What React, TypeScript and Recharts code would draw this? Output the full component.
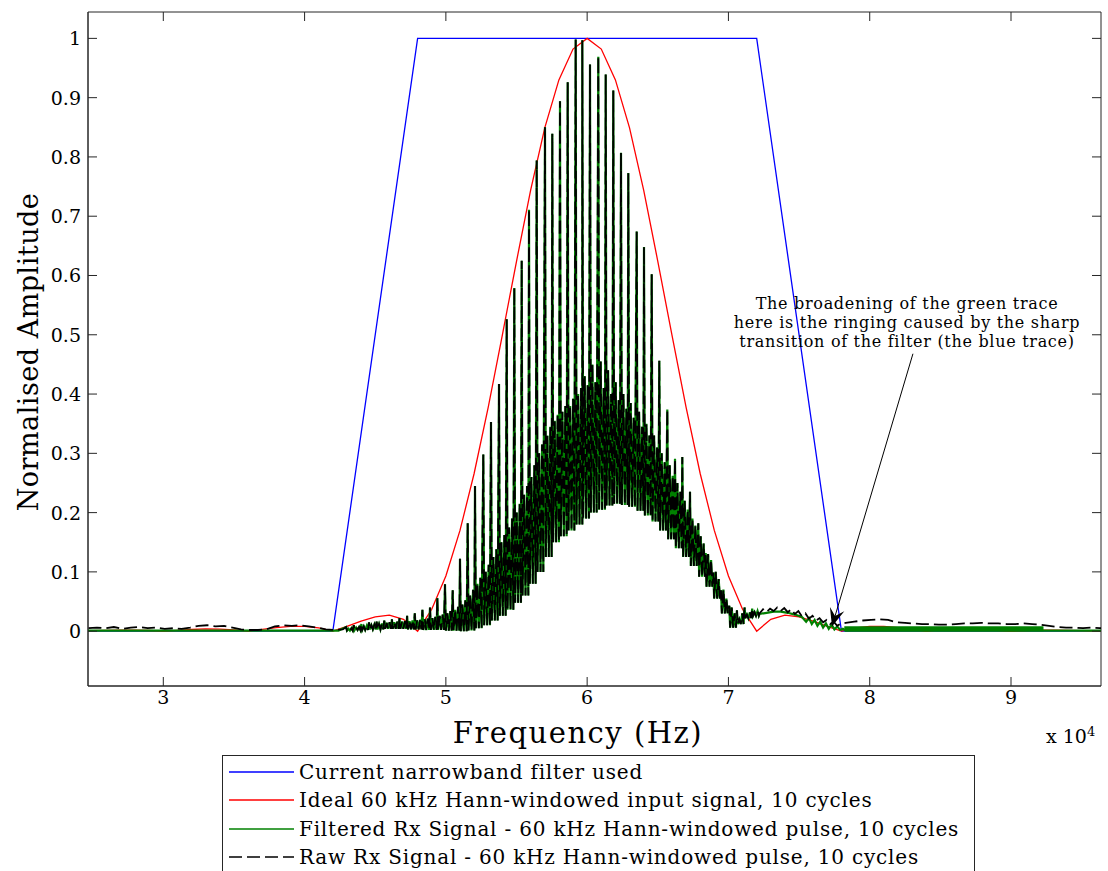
import React from 'react';
import {
  LineChart,
  Line,
  XAxis,
  YAxis,
  Legend,
  ReferenceArea,
  ReferenceLine,
} from 'recharts';

// plot box in page pixels (the axes draw their own inward ticks from these)
const PLOT = { left: 88, top: 12, right: 1101, bottom: 686 };
const CHART_W = 1108;
const CHART_H = 871;
const X_DOMAIN: [number, number] = [24670, 96370];
const Y_DOMAIN: [number, number] = [-0.0925, 1.0445];
const FONT = '"DejaVu Serif", "Liberation Serif", serif';
const AXIS = '#262626';

const xTicks = [30000, 40000, 50000, 60000, 70000, 80000, 90000];
const yTicks = [0, 0.1, 0.2, 0.3, 0.4, 0.5, 0.6, 0.7, 0.8, 0.9, 1];

// narrowband filter response
const filterHz = [24000, 42000, 48000, 72000, 78000, 97000];
const filterAmp = [0, 0, 1, 1, 0, 0];

// ideal Hann-windowed 60 kHz input spectrum
const idealHz = [
  24000, 25000, 26000, 27000, 28000, 29000, 30000, 31000, 32000, 33000, 34000, 35000,
  36000, 37000, 38000, 39000, 40000, 41000, 42000, 43000, 44000, 45000, 46000, 47000,
  48000, 49000, 50000, 51000, 52000, 53000, 54000, 55000, 56000, 57000, 58000, 59000,
  60000, 61000, 62000, 63000, 64000, 65000, 66000, 67000, 68000, 69000, 70000, 71000,
  72000, 73000, 74000, 75000, 76000, 77000, 78000, 79000, 80000, 81000, 82000, 83000,
  84000, 85000, 86000, 87000, 88000, 89000, 90000, 91000, 92000, 93000, 94000, 95000,
  96000, 97000,
];
const idealAmp = [
  0, 0.0008, 0.0015, 0.0019, 0.0019, 0.0011, 0, 0.0015, 0.0028, 0.0037, 0.0036, 0.0023,
  0, 0.003, 0.006, 0.0081, 0.0082, 0.0056, 0, 0.008, 0.017, 0.024, 0.027, 0.02,
  0, 0.037, 0.093, 0.17, 0.266, 0.378, 0.5, 0.624, 0.744, 0.849, 0.93, 0.982,
  1, 0.982, 0.93, 0.849, 0.744, 0.624, 0.5, 0.378, 0.266, 0.17, 0.093, 0.037,
  0, 0.02, 0.027, 0.024, 0.017, 0.008, 0, 0.0056, 0.0082, 0.0081, 0.006, 0.003,
  0, 0.0023, 0.0036, 0.0037, 0.0028, 0.0015, 0, 0.0011, 0.0019, 0.0019, 0.0015, 0.0008,
  0, 0.0006,
];

// received pulse comb: one tall line per period, then a band of short lines
// bouncing between the floor and the secondary level
const combHz = [
  42940, 43480, 44020, 44560, 45100, 45640, 46180, 46720, 47260, 47800, 48340, 48877,
  49394, 49938, 50484, 51000, 51545, 52062, 52650, 53194, 53761, 54306, 54844, 55367,
  55884, 56429, 57016, 57533, 58078, 58623, 59189, 59657, 60202, 60789, 61313, 61851,
  62396, 62912, 63507, 64024, 64569, 65107, 65673, 66218, 66735, 67280, 67867, 68391,
  68929, 69474, 70062, 70600, 71140, 71680,
];
const combPeak = [
  0.007, 0.01, 0.012, 0.015, 0.016, 0.018, 0.02, 0.022, 0.026, 0.03, 0.036, 0.04,
  0.056, 0.079, 0.069, 0.122, 0.182, 0.245, 0.298, 0.353, 0.417, 0.526, 0.579, 0.625,
  0.711, 0.794, 0.85, 0.839, 0.894, 0.926, 0.998, 0.997, 0.956, 0.969, 0.939, 0.912,
  0.807, 0.773, 0.674, 0.648, 0.602, 0.456, 0.374, 0.291, 0.294, 0.235, 0.182, 0.132,
  0.099, 0.069, 0.043, 0.035, 0.04, 0.038,
];
const combSub = [
  0.004, 0.006, 0.008, 0.01, 0.012, 0.014, 0.015, 0.016, 0.017, 0.018, 0.02, 0.022,
  0.026, 0.03, 0.036, 0.045, 0.06, 0.08, 0.1, 0.125, 0.15, 0.175, 0.2, 0.23,
  0.26, 0.3, 0.33, 0.355, 0.37, 0.38, 0.4, 0.43, 0.45, 0.455, 0.44, 0.42,
  0.4, 0.385, 0.37, 0.35, 0.33, 0.3, 0.28, 0.25, 0.22, 0.19, 0.16, 0.13,
  0.1, 0.07, 0.04, 0.02, 0.028, 0.032,
];
const combSub2 = [
  0.005, 0.007, 0.009, 0.011, 0.013, 0.015, 0.016, 0.017, 0.018, 0.019, 0.021, 0.024,
  0.028, 0.034, 0.041, 0.052, 0.07, 0.09, 0.112, 0.138, 0.162, 0.19, 0.215, 0.245,
  0.28, 0.315, 0.345, 0.365, 0.38, 0.392, 0.41, 0.415, 0.42, 0.41, 0.4, 0.39,
  0.375, 0.36, 0.345, 0.33, 0.31, 0.285, 0.262, 0.235, 0.205, 0.178, 0.148, 0.12,
  0.088, 0.055, 0.03, 0.03, 0.032, 0.034,
];
const combFloor = [
  0.001, 0.002, 0.002, 0.003, 0.003, 0.004, 0.004, 0.004, 0.003, 0.003, 0.002, 0.002,
  0.002, 0.001, 0.001, 0, 0.001, 0.005, 0.01, 0.018, 0.026, 0.036, 0.048, 0.06,
  0.08, 0.1, 0.125, 0.15, 0.16, 0.17, 0.18, 0.19, 0.2, 0.205, 0.212, 0.215,
  0.213, 0.21, 0.203, 0.195, 0.185, 0.17, 0.155, 0.14, 0.125, 0.11, 0.092, 0.075,
  0.055, 0.03, 0.006, 0.012, 0.022, 0.026,
];
// offsets (Hz) of the points inside one comb period
const COMB_OFFSETS = [0, 60, 170, 270, 380, 470];

// raw signal outside the comb
const rawLeftHz = [
  24700, 25300, 25900, 26500, 27100, 27700, 28300, 28900, 29500, 30100, 30700, 31300,
  31900, 32500, 33100, 33700, 34300, 34900, 35500, 36100, 36700, 37300, 37900, 38500,
  39100, 39700, 40300, 40900, 41500, 42100, 42700,
];
const rawLeftAmp = [
  0.005, 0.006, 0.005, 0.007, 0.004, 0.006, 0.007, 0.005, 0.006, 0.004, 0.005, 0.004,
  0.006, 0.009, 0.01, 0.008, 0.009, 0.006, 0.003, 0.002, 0.002, 0.003, 0.008, 0.01,
  0.009, 0.01, 0.008, 0.006, 0.003, 0.002, 0.003,
];
const rawHumpHz = [
  72200, 72450, 72700, 72950, 73200, 73450, 73700, 73950, 74200, 74450, 74700, 74950,
  75200, 75450, 75700, 75950, 76200, 76450, 76700, 76950, 77200, 77450, 77700, 77900,
];
const rawHumpAmp = [
  0.03, 0.037, 0.032, 0.038, 0.034, 0.04, 0.034, 0.039, 0.032, 0.037, 0.029, 0.034,
  0.025, 0.03, 0.021, 0.026, 0.018, 0.022, 0.015, 0.019, 0.012, 0.016, 0.009, 0.012,
];
const rawTailHz = [
  78300, 78900, 79500, 80100, 80700, 81300, 81900, 82500, 83100, 83700, 84300, 84900,
  85500, 86100, 86700, 87300, 87900, 88500, 89100, 89700, 90300, 90900, 91500, 92100,
  92700, 93300, 93900, 94500, 95100, 95700, 96300, 97000,
];
const rawTailAmp = [
  0.014, 0.016, 0.018, 0.019, 0.02, 0.019, 0.015, 0.014, 0.013, 0.012, 0.012, 0.011,
  0.011, 0.012, 0.013, 0.013, 0.014, 0.013, 0.013, 0.012, 0.012, 0.013, 0.012, 0.011,
  0.009, 0.007, 0.006, 0.006, 0.005, 0.006, 0.005, 0.005,
];

// filtered signal outside the comb
const filtLeftHz = [24000, 42400];
const filtLeftAmp = [0.001, 0.001];
const filtHumpHz = [
  72200, 72700, 73200, 73700, 74200, 74700, 75200, 75500, 75700, 75900, 76100, 76300,
  76500, 76700, 76900, 77100, 77300, 77500, 77700, 77900, 78100, 78300,
];
const filtHumpAmp = [
  0.029, 0.031, 0.033, 0.033, 0.031, 0.028, 0.024, 0.016, 0.022, 0.012, 0.019, 0.009,
  0.016, 0.006, 0.013, 0.004, 0.011, 0.003, 0.008, 0.002, 0.004, 0.001,
];
const filtTailHz = [78300, 97000];
const filtTailAmp = [0.001, 0.001];
// ringing band after the filter edge
const ringHz = [78200, 92300];
const ringAmp = [0.004, 0.004];

// annotation arrow end points (Hz, amplitude)
const arrowHz = [83060, 77330];
const arrowAmp = [0.468, 0.008];

const toPoints = (hz: number[], amp: number[]) => hz.map((h, i) => ({ hz: h, amp: amp[i] }));

const combPoints = combHz.flatMap((h, i) => {
  const levels = [combPeak[i], combFloor[i], combSub[i], combFloor[i], combSub2[i], combFloor[i]];
  return COMB_OFFSETS.map((off, k) => ({ hz: h + off, amp: levels[k] }));
});

const filterData = toPoints(filterHz, filterAmp);
const idealData = toPoints(idealHz, idealAmp);
const rawData = [
  ...toPoints(rawLeftHz, rawLeftAmp),
  ...combPoints,
  ...toPoints(rawHumpHz, rawHumpAmp),
  ...toPoints(rawTailHz, rawTailAmp),
];
const filtData = [
  ...toPoints(filtLeftHz, filtLeftAmp),
  ...combPoints,
  ...toPoints(filtHumpHz, filtHumpAmp),
  ...toPoints(filtTailHz, filtTailAmp),
];
const ringData = toPoints(ringHz, ringAmp);

const SERIES = [
  { name: 'Current narrowband filter used', color: '#0000ff', dash: '' },
  { name: 'Ideal 60 kHz Hann-windowed input signal, 10 cycles', color: '#ff0000', dash: '' },
  { name: 'Filtered Rx Signal - 60 kHz Hann-windowed pulse, 10 cycles', color: '#008000', dash: '' },
  { name: 'Raw Rx Signal - 60 kHz Hann-windowed pulse, 10 cycles', color: '#000000', dash: '13 5' },
];

const XTick = (props: any) => {
  const { x, payload } = props;
  return (
    <g>
      <line x1={x} x2={x} y1={PLOT.bottom} y2={PLOT.bottom - 9} stroke={AXIS} />
      <line x1={x} x2={x} y1={PLOT.top} y2={PLOT.top + 9} stroke={AXIS} />
      <text x={x} y={PLOT.bottom + 18} textAnchor="middle" fontFamily={FONT} fontSize={19} fill="#000">
        {payload.value / 10000}
      </text>
    </g>
  );
};

const YTick = (props: any) => {
  const { y, payload } = props;
  return (
    <g>
      <line x1={PLOT.left} x2={PLOT.left + 9} y1={y} y2={y} stroke={AXIS} />
      <line x1={PLOT.right - 9} x2={PLOT.right} y1={y} y2={y} stroke={AXIS} />
      <text x={81} y={y + 7} textAnchor="end" fontFamily={FONT} fontSize={19} fill="#000">
        {String(payload.value)}
      </text>
    </g>
  );
};

const ArrowShape = (props: any) => {
  const { x1, y1, x2, y2 } = props;
  if ([x1, y1, x2, y2].some((v) => v === undefined || Number.isNaN(v))) return null;
  const ang = Math.atan2(y2 - y1, x2 - x1);
  const len = 18;
  const half = 7.5;
  const bx = x2 - len * Math.cos(ang);
  const by = y2 - len * Math.sin(ang);
  const nx = -Math.sin(ang);
  const ny = Math.cos(ang);
  const notchX = x2 - len * 0.6 * Math.cos(ang);
  const notchY = y2 - len * 0.6 * Math.sin(ang);
  const head = [
    [x2, y2],
    [bx + nx * half, by + ny * half],
    [notchX, notchY],
    [bx - nx * half, by - ny * half],
  ]
    .map((p) => p.join(','))
    .join(' ');
  return (
    <g>
      <line x1={x1} y1={y1} x2={notchX} y2={notchY} stroke="#000" strokeWidth={1} />
      <polygon points={head} fill="#000" />
    </g>
  );
};

const LegendBox = () => (
  <div
    style={{
      width: 753,
      height: 117,
      border: '1px solid #262626',
      boxSizing: 'border-box',
      background: '#fff',
      position: 'relative',
      fontFamily: FONT,
      fontSize: 20,
      letterSpacing: 0.8,
      color: '#000',
    }}
  >
    {SERIES.map((s, i) => (
      <div
        key={s.name}
        style={{
          position: 'absolute',
          left: 0,
          top: 2 + i * 28.3,
          height: 28,
          display: 'flex',
          alignItems: 'center',
          whiteSpace: 'nowrap',
        }}
      >
        <svg width={76} height={28}>
          <line x1={6} x2={71} y1={14} y2={14} stroke={s.color} strokeWidth={1.3} strokeDasharray={s.dash || undefined} />
        </svg>
        <span>{s.name}</span>
      </div>
    ))}
  </div>
);

export default function App() {
  return (
    <div style={{ position: 'absolute', left: 0, top: 0, width: CHART_W, height: CHART_H, background: '#fff' }}>
      <LineChart
        width={CHART_W}
        height={CHART_H}
        margin={{ top: PLOT.top, right: CHART_W - PLOT.right, left: 0, bottom: CHART_H - PLOT.bottom - 30 }}
      >
        <XAxis
          type="number"
          dataKey="hz"
          domain={X_DOMAIN}
          allowDataOverflow
          ticks={xTicks}
          interval={0}
          height={30}
          tickLine={false}
          axisLine={{ stroke: AXIS }}
          tick={XTick}
        />
        <YAxis
          type="number"
          dataKey="amp"
          domain={Y_DOMAIN}
          allowDataOverflow
          ticks={yTicks}
          interval={0}
          width={PLOT.left}
          tickLine={false}
          axisLine={{ stroke: AXIS }}
          tick={YTick}
        />
        <ReferenceArea
          x1={X_DOMAIN[0]}
          x2={X_DOMAIN[1]}
          y1={Y_DOMAIN[0]}
          y2={Y_DOMAIN[1]}
          fill="none"
          stroke={AXIS}
          strokeWidth={1}
          ifOverflow="visible"
        />
        <Line
          data={filterData}
          dataKey="amp"
          name={SERIES[0].name}
          stroke={SERIES[0].color}
          strokeWidth={1.3}
          dot={false}
          type="linear"
          isAnimationActive={false}
        />
        <Line
          data={idealData}
          dataKey="amp"
          name={SERIES[1].name}
          stroke={SERIES[1].color}
          strokeWidth={1.3}
          dot={false}
          type="linear"
          isAnimationActive={false}
        />
        <Line
          data={filtData}
          dataKey="amp"
          name={SERIES[2].name}
          stroke={SERIES[2].color}
          strokeWidth={2.2}
          dot={false}
          type="linear"
          isAnimationActive={false}
        />
        <Line
          data={ringData}
          dataKey="amp"
          name="ringing"
          legendType="none"
          stroke={SERIES[2].color}
          strokeWidth={5}
          dot={false}
          type="linear"
          isAnimationActive={false}
        />
        <Line
          data={rawData}
          dataKey="amp"
          name={SERIES[3].name}
          stroke={SERIES[3].color}
          strokeWidth={1.8}
          strokeDasharray={SERIES[3].dash}
          dot={false}
          type="linear"
          isAnimationActive={false}
        />
        <ReferenceLine
          segment={[
            { x: arrowHz[0], y: arrowAmp[0] },
            { x: arrowHz[1], y: arrowAmp[1] },
          ]}
          shape={ArrowShape}
          ifOverflow="visible"
        />
        <Legend
          layout="horizontal"
          verticalAlign="middle"
          align="center"
          content={LegendBox}
          wrapperStyle={{ left: 222, top: 755, width: 753, height: 117 }}
        />
      </LineChart>

      <div
        style={{
          position: 'absolute',
          left: 28,
          top: 352,
          transform: 'translate(-50%, -50%) rotate(-90deg)',
          fontFamily: FONT,
          fontSize: 27,
          letterSpacing: 0.5,
          whiteSpace: 'nowrap',
          color: '#000',
        }}
      >
        Normalised Amplitude
      </div>
      <div
        style={{
          position: 'absolute',
          left: 578,
          top: 733,
          transform: 'translate(-50%, -50%)',
          fontFamily: FONT,
          fontSize: 29,
          letterSpacing: 1.5,
          whiteSpace: 'nowrap',
          color: '#000',
        }}
      >
        Frequency (Hz)
      </div>
      <div
        style={{
          position: 'absolute',
          left: 1046,
          top: 724,
          fontFamily: FONT,
          fontSize: 19,
          whiteSpace: 'nowrap',
          color: '#000',
        }}
      >
        x 10<sup style={{ fontSize: 13 }}>4</sup>
      </div>
      <div
        style={{
          position: 'absolute',
          left: 907,
          top: 294,
          transform: 'translateX(-50%)',
          fontFamily: FONT,
          fontSize: 16,
          letterSpacing: 0.7,
          lineHeight: '19px',
          textAlign: 'center',
          whiteSpace: 'nowrap',
          color: '#000',
        }}
      >
        The broadening of the green trace
        <br />
        here is the ringing caused by the sharp
        <br />
        transition of the filter (the blue trace)
      </div>
    </div>
  );
}
